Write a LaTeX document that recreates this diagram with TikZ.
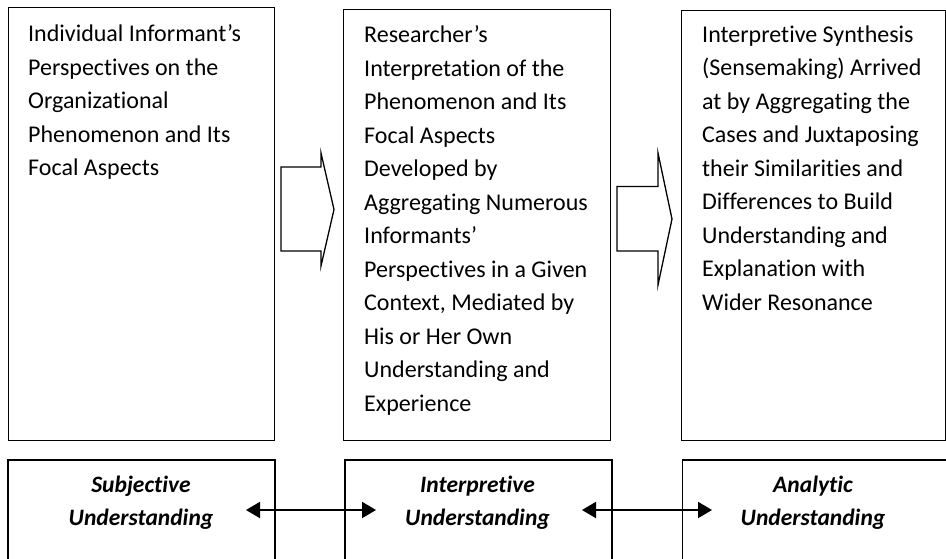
\documentclass[tikz,border=0pt]{standalone}
\usepackage{fontspec}
\setmainfont{Carlito}[Ligatures={NoCommon}]
\usetikzlibrary{arrows.meta}
\newcommand{\stack}[2]{\begin{tabular}[t]{@{}#1@{}}#2\end{tabular}}
\begin{document}
\begin{tikzpicture}[x=1pt,y=-1pt,
  topbox/.style={draw=black, line width=1.2pt, inner sep=0pt, anchor=north west},
  lowbox/.style={draw=black, line width=1.8pt, inner sep=0pt, anchor=north west},
  blockarrow/.style={draw=black, line width=1.3pt, line join=miter},
  linkarrow/.style={{Triangle[length=14pt,width=16pt]}-{Triangle[length=14pt,width=16pt]}, line width=2pt},
  bodytext/.style={anchor=base west, inner sep=0pt, font=\fontsize{24}{33.5}\selectfont},
  labeltext/.style={anchor=base, inner sep=0pt, font=\fontsize{23.5}{33.5}\selectfont\bfseries\itshape}]
\useasboundingbox (0,0) rectangle (946,558);

% upper row of boxes
\node (b1) [topbox, minimum width=266pt, minimum height=433pt] at (8,7) {};
\node (b2) [topbox, minimum width=267pt, minimum height=431pt] at (343,9) {};
\node (b3) [topbox, minimum width=264pt, minimum height=430pt] at (681,10) {};

% box texts
\node (t1) [bodytext] at (28,41.5) {\stack{l}{Individual Informant’s\\ Perspectives on the\\ Organizational\\ Phenomenon and Its\\ Focal Aspects}};
\node (t2) [bodytext] at (364,42.5) {\stack{l}{Researcher’s\\ Interpretation of the\\ Phenomenon and Its\\ Focal Aspects\\ Developed by\\ Aggregating Numerous\\ Informants’\\ Perspectives in a Given\\ Context, Mediated by\\ His or Her Own\\ Understanding and\\ Experience}};
\node (t3) [bodytext] at (702,42) {\stack{l}{Interpretive Synthesis\\ (Sensemaking) Arrived\\ at by Aggregating the\\ Cases and Juxtaposing\\ their Similarities and\\ Differences to Build\\ Understanding and\\ Explanation with\\ Wider Resonance}};

% block arrows between the upper boxes
\draw[blockarrow] (281,167) -- (321,167) -- (321,153) -- (334,209.5) -- (321,266) -- (321,251) -- (281,251) -- cycle;
\draw[blockarrow] (617,186.5) -- (658,186.5) -- (658,153) -- (672,219) -- (658,285) -- (658,251) -- (617,251) -- cycle;

% lower row of boxes
\node (u1) [lowbox, minimum width=267pt, minimum height=130pt] at (7,459) {};
\node (u2) [lowbox, minimum width=267pt, minimum height=130pt] at (344,459) {};
\node (u3) [lowbox, minimum width=265pt, minimum height=130pt] at (681.5,459) {};

\node (l1) [labeltext] at (141,492) {\stack{c}{Subjective\\ Understanding}};
\node (l2) [labeltext] at (477.5,492) {\stack{c}{Interpretive\\ Understanding}};
\node (l3) [labeltext] at (813,492) {\stack{c}{Analytic\\ Understanding}};

% two-way links between the lower boxes
\coordinate (a1) at (246,510);
\coordinate (a2) at (376,510);
\coordinate (a3) at (582,510);
\coordinate (a4) at (712,510);
\draw[linkarrow] (a1) -- (a2);
\draw[linkarrow] (a3) -- (a4);
\end{tikzpicture}
\end{document}
